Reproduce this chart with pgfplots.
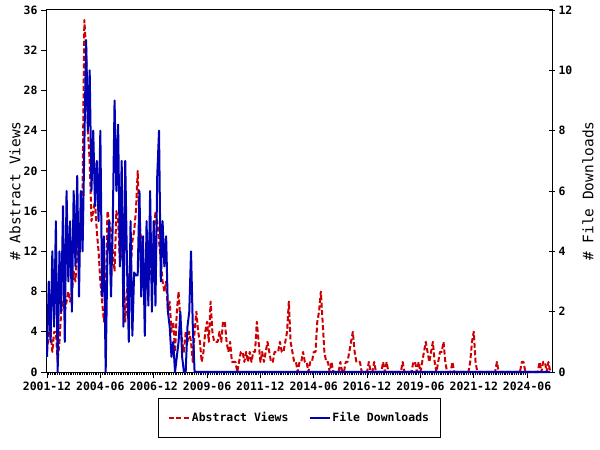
\documentclass[border=0pt]{standalone}
\usepackage{fontspec}
\setmainfont{DejaVu Sans Mono}
\usepackage{pgfplots}
\pgfplotsset{compat=1.18}
\usepackage{pgfplotstable}

\definecolor{viewred}{RGB}{204,0,0}
\definecolor{dlblue}{RGB}{0,0,180}

% monthly counts from 2001-12 on: abstract views (v), file downloads (d)
\pgfplotstableread[row sep=\\]{
v d\\
2 0.5\\ 4 3\\ 4 1\\ 2 4\\ 4 1.5\\ 4 5\\ 1 0\\ 3 4\\ 6 2\\ 7 5.5\\
6 1\\ 7 6\\ 8 3\\ 7 5\\ 8 2\\ 10 6\\ 9 3.5\\ 12 6.5\\ 13 2.5\\ 15 6\\
18 4\\ 35 7.5\\ 32 11\\ 24 8\\ 21 10\\ 15 6\\ 16 8\\ 17 5.5\\ 14 7\\ 12 5\\
9 8\\ 7 2.5\\ 5 4.5\\ 7 0\\ 16 4\\ 15 5\\ 14 2.5\\ 12 5\\ 10 9\\ 16 6\\
15 8.2\\ 11 3.5\\ 13 7\\ 10 1.5\\ 5 7\\ 8 3.5\\ 10 1\\ 10 5\\ 13 1.2\\ 14 3.3\\
16 3.2\\ 20 3.2\\ 15 6\\ 13 2.5\\ 10 4.5\\ 7 1.2\\ 10 5\\ 13 2.2\\ 11 6\\ 9 2\\
13 5\\ 16 2.2\\ 15 6.5\\ 13 8\\ 11 3\\ 9 5\\ 8 3.5\\ 9 4.5\\ 6 2\\ 7 1.5\\
4 0.5\\ 5 1\\ 2 0\\ 6 0.5\\ 8 1\\ 5 2\\ 3 0.5\\ 2 0\\ 4 0\\ 3 1.5\\
4 2\\ 3 4\\ 1 1.5\\ 4 0\\ 6 0\\ 4 0\\ 3 0\\ 1 0\\ 2 0\\ 4 0\\
5 0\\ 3 0\\ 7 0\\ 4 0\\ 3 0\\ 3 0\\ 3 0\\ 4 0\\ 3 0\\ 5 0\\
5 0\\ 3 0\\ 2 0\\ 3 0\\ 1 0\\ 1 0\\ 1 0\\ 0 0\\ 1 0\\ 2 0\\
2 0\\ 1 0\\ 2 0\\ 1 0\\ 2 0\\ 1 0\\ 2 0\\ 2 0\\ 5 0\\ 3 0\\
1 0\\ 2 0\\ 1 0\\ 2 0\\ 3 0\\ 2 0\\ 1 0\\ 1 0\\ 2 0\\ 2 0\\
2 0\\ 3 0\\ 2 0\\ 2 0\\ 3 0\\ 4 0\\ 7 0\\ 3 0\\ 2 0\\ 1 0\\
1 0\\ 0 0\\ 1 0\\ 1 0\\ 2 0\\ 1 0\\ 1 0\\ 0 0\\ 1 0\\ 1 0\\
2 0\\ 2 0\\ 5 0\\ 6 0\\ 8 0\\ 5 0\\ 2 0\\ 1 0\\ 1 0\\ 0 0\\
1 0\\ 0 0\\ 0 0\\ 0 0\\ 0 0\\ 1 0\\ 0 0\\ 0 0\\ 1 0\\ 1 0\\
2 0\\ 3 0\\ 4 0\\ 2 0\\ 1 0\\ 1 0\\ 1 0\\ 0 0\\ 0 0\\ 0 0\\
0 0\\ 1 0\\ 0 0\\ 0 0\\ 1 0\\ 0 0\\ 0 0\\ 0 0\\ 0 0\\ 1 0\\
0 0\\ 1 0\\ 0 0\\ 0 0\\ 0 0\\ 0 0\\ 0 0\\ 0 0\\ 0 0\\ 0 0\\
1 0\\ 0 0\\ 0 0\\ 0 0\\ 0 0\\ 0 0\\ 1 0\\ 1 0\\ 0 0\\ 1 0\\
0 0\\ 1 0\\ 2 0\\ 3 0\\ 2 0\\ 1 0\\ 2 0\\ 3 0\\ 1 0\\ 0 0\\
1 0\\ 2 0\\ 2 0\\ 3 0\\ 1 0\\ 0 0\\ 0 0\\ 0 0\\ 1 0\\ 0 0\\
0 0\\ 0 0\\ 0 0\\ 0 0\\ 0 0\\ 0 0\\ 0 0\\ 0 0\\ 1 0\\ 3 0\\
4 0\\ 1 0\\ 0 0\\ 0 0\\ 0 0\\ 0 0\\ 0 0\\ 0 0\\ 0 0\\ 0 0\\
0 0\\ 0 0\\ 0 0\\ 1 0\\ 0 0\\ 0 0\\ 0 0\\ 0 0\\ 0 0\\ 0 0\\
0 0\\ 0 0\\ 0 0\\ 0 0\\ 0 0\\ 0 0\\ 0 0\\ 1 0\\ 1 0\\ 0 0\\
0 0\\ 0 0\\ 0 0\\ 0 0\\ 0 0\\ 0 0\\ 0 0\\ 1 0\\ 0 0\\ 1 0\\
1 0\\ 0 0\\ 1 0\\ 0 0\\
}\stats

\newcommand{\tickfont}{\fontsize{11.5}{12}\selectfont\bfseries}
\newcommand{\labfont}{\fontsize{14.5}{15}\selectfont}

\pgfplotsset{
  common/.style={
    at={(0,0)}, anchor=south west,
    scale only axis, width=505bp, height=362bp,
    xmin=0, xmax=284, ymin=0,
    clip=false,
    tick align=outside,
    major tick length=6bp, minor tick length=3bp,
    every tick/.style={black, line width=0.8bp},
    axis line style={black, line width=1bp},
    tick label style={font=\tickfont},
    yticklabel={\tickfont\pgfmathprintnumber[assume math mode=true]{\tick}},
  },
}

\begin{document}
\begin{tikzpicture}
\path[use as bounding box] (-47bp,-78bp) rectangle (553bp,372bp);

\begin{axis}[
  common,
  ymax=36,
  xtick={0,30,...,270},
  xticklabels={2001-12,2004-06,2006-12,2009-06,2011-12,2014-06,2016-12,2019-06,2021-12,2024-06},
  minor x tick num=29,
  ytick={0,4,...,36},
  xtick pos=bottom, ytick pos=left,
  ylabel={\# Abstract Views},
  every axis y label/.style={at={(axis description cs:-0.0634,0.5)}, rotate=90, anchor=center, font=\labfont},
  legend style={at={(0.5,-0.0718)}, anchor=north, legend columns=2,
    draw=black, line width=1bp, fill=white,
    inner xsep=9bp, inner ysep=12bp, font=\tickfont,
    /tikz/every even column/.append style={column sep=18bp}},
  legend cell align=left,
  legend image code/.code={\draw[#1] (0bp,0bp) -- (20bp,0bp);},
]
\addplot[viewred, line width=2bp, dash pattern=on 5bp off 2.5bp, line join=round]
  table[x expr=\coordindex, y=v] {\stats};
\addlegendentry{Abstract Views}
\addlegendimage{dlblue, line width=2bp}
\addlegendentry{File Downloads}
\end{axis}

\begin{axis}[
  common,
  ymax=12,
  axis x line=none,
  axis y line*=right,
  ytick={0,2,...,12},
  tick align=center,
  ylabel={\# File Downloads},
  every axis y label/.style={at={(axis description cs:1.071,0.5)}, rotate=90, anchor=center, font=\labfont},
]
\addplot[dlblue, line width=2bp, line join=round]
  table[x expr=\coordindex, y=d] {\stats};
\end{axis}
\end{tikzpicture}
\end{document}
